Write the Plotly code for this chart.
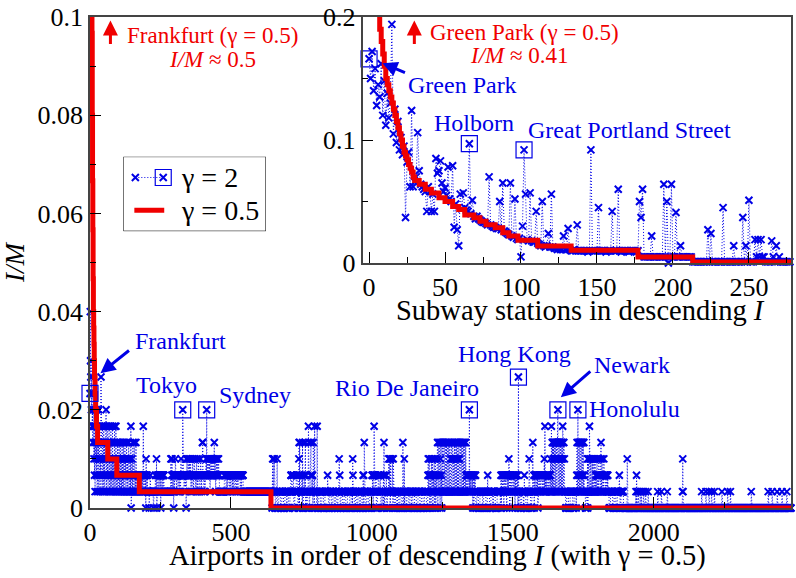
import plotly.graph_objects as go

BLUE = "rgb(0,0,230)"
RED = "rgb(240,0,0)"
FONT = "Liberation Serif, Times New Roman, Times, DejaVu Serif, serif"

# ---------------- main panel: airports ----------------
# I/M for gamma = 2, in units of 1/300 (hex digit per airport, blocks of 50 airports)
AIRPORT_UNIT = 1 / 300
airport_blocks_gamma2 = [
    "7c98968756 4756352416 5342615243 6135241328 5341524135",
    "2413524613 3524134251 4231524132 5142312541 3251423142",
    "2314213241 3212413214 2131423121 4213212431 2132150213",
    "2142121412 1214121212 1212221212 2122122125 2122121203",
    "2212111111 0111211111 1111101111 1121113011 2221222212",
    "2022212221 2221111111 1111111111 1111111313 2312221021",
    "2223222122 2212222122 2123222226 2222122212 2032322232",
    "2223222312 2212322212 3222212231 2221322222 1232221224",
    "4222122212 2232623222 3222321232 2232223222 3422321232",
    "2232223212 1111111111 1111111222 2221222212 2222122221",
    "2222122212 2222122222 1222212222 2221222212 2222111111",
    "1111111111 1111111111 1111111111 1111111111 1111111111",
    "1111111111 1111111111 1111111111 1111111111 1111110131",
    "3111310000 1111300000 1111110000 0111111000 0011111100",
    "1111100000 1112221111 2220000111 1122221100 1340421111",
    "1120400111 2211402110 0111150400 1112411122 1041110511",
    "1111105000 0011111100 0001111110 0000111111 1112100000",
    "0111111000 0011111000 0111110000 1111312000 0111111000",
    "0011111100 0000111111 1100000111 1032111100 0011111000",
    "0111110000 1111100002 1204111100 0011111100 0001111110",
    "1222102252 2111220000 1112221111 2200111110 1204201111",
    "1200011111 3113301311 1113103111 0000111110 0111110000",
    "1111100000 4110130111 1100011111 1000011111 0111110000",
    "0011111100 0000111111 1000001111 1100000111 1111000002",
    "3122302221 0312130212 1302131021 2134012412 1403141204",
    "1141114111 4111411141 1141114111 3141131413 1314131143",
    "1413141314 3111411141 1141114111 4114212221 2122216121",
    "2212221202 1202112120 0011111100 0000111111 1110000111",
    "1111100000 1211111100 0001111110 0011111100 0000011111",
    "1111110020 1222112202 1221221210 2112213120 1222111202",
    "1221222102 1222111201 8011111000 0011111100 1211111000",
    "0001111131 1110000111 1411120121 2221222120 1222122212",
    "1222122212 1231512122 1222122212 1221311511 4143414341",
    "3414341434 6143414341 3414341534 1413111100 0011111100",
    "0000111111 1110000011 1111101241 2614241424 1424142412",
    "4142111100 0111130131 1153113111 1311311131 1131121223",
    "1222131222 1314121312 1213122212 1212221211 1100000111",
    "1111100000 1111110000 0111111120 0000111111 1110000000",
    "0000003000 0000000000 0000000000 0000000102 0100010000",
    "0010000100 0000100000 0100000000 1000000000 0000000000",
    "0000000000 0000100000 0000000100 0000000000 0000000010",
    "0000000000 0000000000 0000000000 0000000000 0000000000",
    "0013100000 0000000000 0000000000 0000000000 0000000000",
    "0000000000 0000000000 1000000000 0000010000 0000001000",
    "0000010000 0000010000 0000000000 0000000000 0010000000",
    "0000000000 0010000000 0010000000 0000000000 0000000000",
    "0000000000 0000000000 0000000000 0000000000 0000001000",
    "0000000000 0000000000 0000000000 0000000000 0000000000",
    "0000001000 0000000000 1000000000 0000000010 0000000000",
    "0000010000 0000000000 0010000000 0000000000 0000000000",
]
# gamma = 0.5 step curve (rank breakpoints, I/M in units of 1/300)
red_air_rank = list(range(0, 27)) + [27, 63, 95, 175, 642, 2499]
red_air_units = [150, 90, 60, 50, 42, 36, 32, 29, 24, 20, 17, 14, 12, 11, 10, 9,
                 8, 8, 7, 7, 6, 6, 6, 5, 5, 5, 5, 4, 3, 2, 1, 0, 0]
boxed_airports = {"Frankfurt": 0, "Tokyo": 329, "Sydney": 414, "Rio De Janeiro": 1346,
                  "Hong Kong": 1520, "Newark": 1660, "Honolulu": 1731}

# ---------------- inset: subway stations ----------------
# I/M for gamma = 2, in thousandths, one per station
station_gamma2_milli = [
    166, 150, 172, 140, 158, 128, 145, 135, 162, 120,
    148, 112, 138, 118, 130, 194, 105, 125, 98, 115,
    92, 102, 88, 95, 37, 82, 90, 62, 124, 62,
    66, 70, 106, 75, 64, 62, 60, 58, 42, 62,
    58, 42, 56, 42, 85, 73, 75, 83, 65, 58,
    61, 55, 78, 52, 50, 79, 29, 48, 27, 14,
    56, 44, 57, 45, 43, 42, 97, 40, 51, 38,
    36, 38, 36, 35, 34, 33, 33, 32, 31, 70,
    31, 30, 29, 29, 28, 28, 50, 27, 65, 26,
    25, 24, 23, 65, 22, 21, 52, 20, 19, 20,
    5, 30, 92, 56, 19, 18, 57, 18, 17, 17,
    42, 16, 15, 14, 50, 14, 13, 14, 24, 13,
    56, 13, 12, 12, 11, 12, 11, 11, 22, 11,
    11, 28, 11, 10, 10, 11, 10, 31, 10, 10,
    10, 10, 10, 10, 9, 10, 92, 10, 10, 10,
    10, 45, 10, 10, 10, 10, 9, 10, 10, 10,
    42, 10, 10, 10, 60, 10, 9, 10, 10, 10,
    10, 9, 10, 10, 10, 10, 9, 10, 50, 37,
    60, 5, 5, 5, 5, 5, 22, 5, 5, 5,
    5, 5, 5, 5, 64, 5, 50, 0, 5, 64,
    5, 5, 41, 5, 5, 14, 5, 5, 5, 5,
    5, 5, 5, 1, 1, 1, 1, 1, 1, 1,
    1, 1, 1, 27, 1, 24, 1, 1, 1, 1,
    1, 1, 1, 45, 1, 1, 1, 1, 1, 1,
    14, 1, 1, 1, 1, 1, 37, 1, 14, 1,
    51, 1, 1, 1, 19, 5, 19, 5, 19, 5,
    5, 1, 1, 1, 1, 18, 5, 1, 14, 1,
    5, 1, 1, 1, 1, 1, 1, 1,
]
red_sub_rank = list(range(0, 31)) + [33, 37, 41, 46, 50, 55, 59, 63, 69, 73, 77, 83,
                                     88, 92, 98, 111, 133, 177, 213, 278]
red_sub_milli = [410, 330, 290, 260, 240, 220, 205, 190, 180, 170, 160, 150, 145, 140,
                 135, 130, 125, 120, 115, 110, 105, 100, 95, 90, 87, 84, 80, 77, 74, 70,
                 67, 64, 60, 57, 53, 50, 46, 43.5, 39, 36.7, 34, 31, 28.6, 24.5, 22,
                 18.5, 13.8, 10.3, 4.9, 0.8, 0.8]
boxed_stations = {"Green Park": 0, "Holborn": 66, "Great Portland Street": 102}

# ---------------- build series ----------------
air_levels = "".join("".join(b.split()) for b in airport_blocks_gamma2)
air_x = list(range(len(air_levels)))
air_y = [int(c, 16) * AIRPORT_UNIT for c in air_levels]
red_air_y = [u * AIRPORT_UNIT for u in red_air_units]

sub_x = list(range(len(station_gamma2_milli)))
sub_y = [v / 1000 for v in station_gamma2_milli]
red_sub_y = [v / 1000 for v in red_sub_milli]

xmark = dict(symbol="x-thin", size=7, color=BLUE, line=dict(width=2, color=BLUE))
dotline = dict(color=BLUE, width=1, dash="1px,2px")
boxmark = dict(symbol="square-open", size=16, color=BLUE, line=dict(width=1.2, color=BLUE))

fig = go.Figure()
fig.add_trace(go.Scatter(x=air_x, y=air_y, mode="lines+markers", line=dotline,
                         marker=xmark, cliponaxis=False))
fig.add_trace(go.Scatter(x=red_air_rank, y=red_air_y, mode="lines",
                         line=dict(color=RED, width=5, shape="hv")))
bx = list(boxed_airports.values())
fig.add_trace(go.Scatter(x=bx, y=[air_y[i] for i in bx], mode="markers", marker=boxmark,
                         cliponaxis=False))

fig.add_trace(go.Scatter(x=sub_x, y=sub_y, mode="lines+markers", line=dotline,
                         marker=xmark, xaxis="x2", yaxis="y2", cliponaxis=False))
fig.add_trace(go.Scatter(x=red_sub_rank, y=red_sub_y, mode="lines",
                         line=dict(color=RED, width=5, shape="hv"), xaxis="x2", yaxis="y2"))
bs = list(boxed_stations.values())
fig.add_trace(go.Scatter(x=bs, y=[sub_y[i] for i in bs], mode="markers", marker=boxmark,
                         xaxis="x2", yaxis="y2", cliponaxis=False))

# ---------------- layout ----------------
W, H = 796, 578
L, R, T, B = 89.5, 3, 14.5, 69.5
PW, PH = W - L - R, H - T - B


def px(x):
    return (x - L) / PW


def py(y):
    return (H - B - y) / PH


# legend key drawn in its own pixel-scaled axis pair (x3/y3)
LEG = dict(x0=123, x1=266, y0=155, y1=230)
fig.add_trace(go.Scatter(x=[135, 163], y=[176, 176], mode="lines+markers", line=dotline,
                         marker=xmark, xaxis="x3", yaxis="y3"))
fig.add_trace(go.Scatter(x=[163], y=[176], mode="markers", marker=boxmark,
                         xaxis="x3", yaxis="y3"))
fig.add_trace(go.Scatter(x=[134, 164], y=[209, 209], mode="lines",
                         line=dict(color=RED, width=5), xaxis="x3", yaxis="y3"))

axis_common = dict(showline=True, mirror=True, linecolor="#444", linewidth=1.5,
                   showgrid=False, zeroline=False, ticks="inside", tickcolor="black",
                   tickwidth=1, tickfont=dict(family=FONT, size=26, color="black"))

fig.update_layout(
    width=W, height=H, margin=dict(l=L, r=R, t=T, b=B),
    paper_bgcolor="white", plot_bgcolor="white",
    font=dict(family=FONT, size=26, color="black"),
    showlegend=False,
    xaxis=dict(axis_common, domain=[0, 1], range=[0, 2487], tick0=0, dtick=500, ticklen=11,
               minor=dict(dtick=250, ticklen=6, ticks="inside", tickcolor="black")),
    yaxis=dict(axis_common, domain=[0, 1], range=[0, 0.1], dtick=0.02, ticklen=11,
               minor=dict(dtick=0.01, ticklen=6, ticks="inside", tickcolor="black"),
               title=dict(text="<i>I/M</i>", font=dict(family=FONT, size=27), standoff=8)),
    xaxis2=dict(axis_common, domain=[px(363), 1], anchor="y2", range=[-4.3, 277.7],
                tick0=0, dtick=50, ticklen=11,
                minor=dict(dtick=25, ticklen=6, ticks="inside", tickcolor="black")),
    yaxis2=dict(axis_common, domain=[py(262), 1], anchor="x2", range=[0, 0.2], dtick=0.1,
                ticklen=11,
                minor=dict(dtick=0.05, ticklen=6, ticks="inside", tickcolor="black")),
    xaxis3=dict(domain=[px(LEG["x0"]), px(LEG["x1"])], range=[LEG["x0"], LEG["x1"]],
                anchor="y3", visible=False, fixedrange=True),
    yaxis3=dict(domain=[py(LEG["y1"]), py(LEG["y0"])], range=[LEG["y1"], LEG["y0"]],
                anchor="x3", visible=False, fixedrange=True),
    shapes=[dict(type="rect", xref="x3", yref="y3", x0=LEG["x0"], x1=LEG["x1"],
                 y0=LEG["y0"], y1=LEG["y1"], line=dict(color="black", width=1),
                 fillcolor="white", layer="below")],
)

ann = []


def label(text, x, y, color=BLUE, size=24, anchor="center"):
    ann.append(dict(text=text, x=px(x), y=py(y), xref="paper", yref="paper",
                    showarrow=False, font=dict(family=FONT, size=size, color=color),
                    xanchor=anchor, yanchor="middle"))


def arrow(tipx, tipy, tailx, taily, color, width=3):
    ann.append(dict(text="", x=px(tipx), y=py(tipy), xref="paper", yref="paper",
                    ax=tailx - tipx, ay=taily - tipy, showarrow=True, arrowhead=2,
                    arrowsize=1, arrowwidth=width, arrowcolor=color))


# axis titles
label("Airports in order of descending <i>I</i> (with γ = 0.5)", 438, 557, "black", 28.5)
label("Subway stations in descending <i>I</i>", 582, 310, "black", 28.5)

# legend text
label("γ = 2", 179, 176, "black", 28, "left")
label("γ = 0.5", 179, 209, "black", 28, "left")

label("Frankfurt", 180, 340)
arrow(100, 373, 130, 349, BLUE)
label("Tokyo", 166, 385)
label("Sydney", 255, 395)
label("Rio De Janeiro", 408, 388)
label("Hong Kong", 516, 354)
label("Newark", 633, 365)
arrow(562, 397, 593, 370, BLUE)
label("Honolulu", 636, 409)

label("Frankfurt (γ = 0.5)", 212, 33, RED, 23)
label("<i>I/M</i> ≈ 0.5", 212, 57, RED, 23)
arrow(110, 18, 110, 43, RED, 3)

label("Green Park (γ = 0.5)", 526, 30, RED, 23)
label("<i>I/M</i> ≈ 0.41", 521, 53, RED, 23)
arrow(415, 18, 415, 43, RED, 3)

label("Green Park", 463, 83)
arrow(383, 61, 407, 71, BLUE)
label("Holborn", 475, 121)
label("Great Portland Street", 631, 128)

fig.update_layout(annotations=ann)

fig.write_html("out.html", config={"displayModeBar": False},
               post_script="document.body.style.margin='0px';")
